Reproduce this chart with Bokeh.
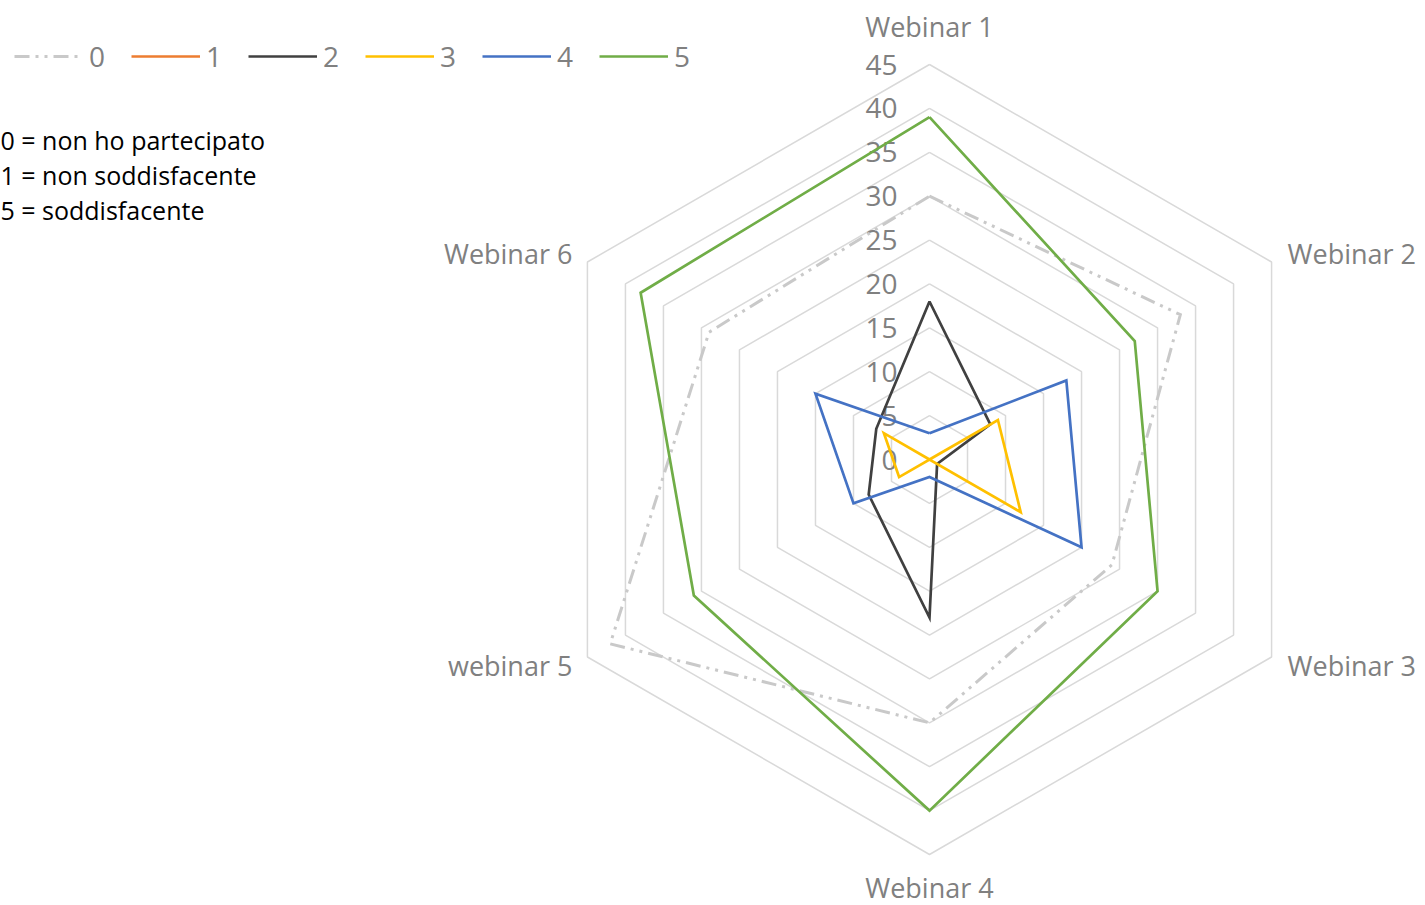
import numpy as np
from bokeh.plotting import figure
from bokeh.models import Range1d, Legend, LegendItem
from bokeh.core.properties import value
from bokeh.embed import file_html
from bokeh.resources import INLINE

# ---------------- data ----------------
categories = ["Webinar 1", "Webinar 2", "Webinar 3", "Webinar 4", "webinar 5", "Webinar 6"]
series_names = ["0", "1", "2", "3", "4", "5"]
s0 = [30, 33, 24, 30, 42, 29]
s1 = [0, 0, 0, 0, 0, 0]
s2 = [18, 8, 1, 18, 8, 7]
s3 = [0, 9, 12, 0, 4, 6]
s4 = [3, 18, 20, 2, 10, 15]
s5 = [39, 27, 30, 40, 31, 38]
ticks = [0, 5, 10, 15, 20, 25, 30, 35, 40, 45]
notes = ["0 = non ho partecipato", "1 = non soddisfacente", "5 = soddisfacente"]

series = [s0, s1, s2, s3, s4, s5]
colors = ["#C9C9C9", "#ED7D31", "#404040", "#FFC000", "#4472C4", "#70AD47"]
dashes = ["15 6 3 6 3 6", "solid", "solid", "solid", "solid", "solid"]
widths = [3.0, 2.7, 2.7, 2.7, 2.7, 2.7]

# ---------------- layout ----------------
W, H = 1425, 905
PX = 395.0 / 45.0          # pixels per unit
CX, CY = 929, 459          # centre in figure pixels
x0 = -CX / PX
x1 = (W - CX) / PX
y1 = CY / PX
y0 = -(H - CY) / PX

p = figure(width=W, height=H, output_backend="svg", toolbar_location=None,
           x_range=Range1d(x0, x1), y_range=Range1d(y0, y1),
           min_border=0, outline_line_color=None)
p.xaxis.visible = False
p.yaxis.visible = False
p.grid.visible = False
p.background_fill_color = "white"
p.border_fill_color = "white"

n = len(categories)
angles = np.pi / 2 - np.arange(n) * 2 * np.pi / n
ca, sa = np.cos(angles), np.sin(angles)

# grid rings
for t in ticks[1:]:
    xs = list(t * ca) + [t * ca[0]]
    ys = list(t * sa) + [t * sa[0]]
    p.line(xs, ys, line_color="#D9D9D9", line_width=1.5)

# tick labels
p.text(x=[0] * len(ticks), y=ticks, text=[str(t) for t in ticks],
       x_offset=-32, text_align="right", text_baseline="middle",
       text_font=value("Open Sans"), text_font_size="28px", text_color="#808080")

# category labels
R = ticks[-1]
ex, ey = R * ca, R * sa
cat_specs = [
    (0, -38, "center"),
    (16, -9, "left"),
    (16, 8, "left"),
    (0, 33, "center"),
    (-15, 8, "right"),
    (-15, -9, "right"),
]
for i, cat in enumerate(categories):
    xo, yo, al = cat_specs[i]
    p.text(x=[ex[i]], y=[ey[i]], text=[cat], x_offset=xo, y_offset=yo,
           text_align=al, text_baseline="middle",
           text_font=value("Open Sans"), text_font_size="27px", text_color="#808080")

# series
renderers = []
for name, vals, col, dsh, lw in zip(series_names, series, colors, dashes, widths):
    v = np.array(vals, dtype=float)
    xs = list(v * ca) + [v[0] * ca[0]]
    ys = list(v * sa) + [v[0] * sa[0]]
    r = p.line(xs, ys, line_color=col, line_width=lw, line_dash=dsh,
               line_join="miter")
    renderers.append(r)

legend = Legend(items=[LegendItem(label=nm, renderers=[r]) for nm, r in zip(series_names, renderers)],
                orientation="horizontal", location=(14, 830),
                glyph_width=69, glyph_height=20, label_standoff=6, spacing=22,
                padding=0, margin=0, label_height=20, label_width=20,
                label_text_font="Open Sans", label_text_font_size="28px",
                label_text_color="#808080", background_fill_alpha=0,
                border_line_alpha=0)
p.add_layout(legend, "center")

# notes
note_y_px = [139, 174, 209]
p.text(x=[x0] * 3, y=[(CY - yy) / PX for yy in note_y_px], text=notes,
       text_align="left", text_baseline="middle",
       text_font=value("Open Sans"), text_font_size="25px", text_color="#000000")

open("out.html", "w").write(file_html(p, INLINE))
